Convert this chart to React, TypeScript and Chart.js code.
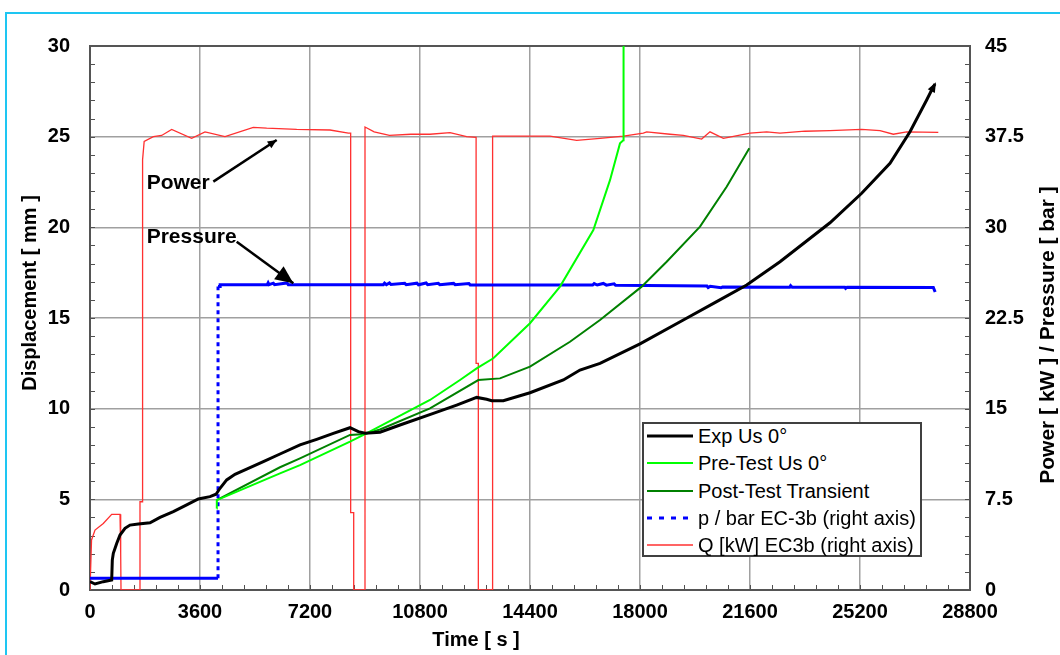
import React, { useEffect, useRef } from "react";
import { Chart, registerables } from "chart.js";

Chart.register(...registerables);

// ---------------- data ----------------
const X_MIN = 0;
const X_MAX = 28800;
const X_STEP = 3600;
const X_MINOR = 720;
const Y_MAX = 30;
const Y_STEP = 5;
const Y_MINOR = 1;
const Y2_MAX = 45;
const Y2_STEP = 7.5;
const Y2_MINOR = 1.5;

const seriesLabels = [
  "Exp Us 0°",
  "Pre-Test Us 0°",
  "Post-Test Transient",
  "p / bar EC-3b (right axis)",
  "Q [kW] EC3b (right axis)",
];

// Exp Us 0° (time s, displacement mm)
const expT = [0, 164, 435, 710, 730, 763, 873, 982, 1145, 1309, 1581, 1964, 2291, 2727, 3164, 3545, 3927, 4124, 4255, 4473, 4745, 5127, 5673, 6218, 6873, 7418, 7964, 8509, 8782, 9000, 9491, 10145, 11236, 12000, 12655, 12982, 13145, 13527, 14400, 15491, 16036, 16691, 18000, 19418, 20509, 21491, 22582, 24218, 25255, 26182, 26836, 27382, 27600, 27655];
const expD = [0.46, 0.33, 0.46, 0.55, 1.65, 2.02, 2.57, 3.03, 3.4, 3.58, 3.64, 3.71, 4.0, 4.32, 4.69, 5.02, 5.15, 5.28, 5.61, 6.07, 6.38, 6.66, 7.08, 7.5, 8.0, 8.31, 8.64, 8.95, 8.73, 8.64, 8.7, 9.1, 9.74, 10.2, 10.62, 10.52, 10.44, 10.44, 10.88, 11.58, 12.13, 12.5, 13.57, 14.89, 15.9, 16.82, 18.1, 20.25, 21.88, 23.53, 25.27, 27.02, 27.75, 27.9];

// Pre-Test Us 0°
const preT = [4145, 4150, 6218, 6873, 8509, 9000, 11127, 12109, 12655, 13200, 14400, 15382, 16473, 17018, 17345, 17454, 17462];
const preD = [4.5, 4.96, 6.43, 6.89, 8.18, 8.6, 10.48, 11.58, 12.22, 12.78, 14.71, 16.73, 19.85, 22.6, 24.63, 24.8, 31];

// Post-Test Transient
const postT = [4145, 6218, 6873, 8509, 9000, 9491, 11127, 12709, 13418, 14400, 15709, 16691, 18054, 18873, 19964, 20836, 21578];
const postD = [4.96, 6.77, 7.26, 8.55, 8.6, 8.85, 10.02, 11.58, 11.67, 12.32, 13.69, 14.89, 16.73, 18.1, 20.04, 22.24, 24.36];

// p / bar EC-3b (right axis)
const pT = [0, 4190, 4190, 4260, 4260, 5800, 5830, 5860, 6000, 6040, 6450, 6490, 9600, 9640, 9700, 9800, 9850, 10300, 10350, 10700, 10750, 11000, 11050, 11400, 11450, 11900, 11950, 12400, 12440, 16450, 16500, 16600, 16800, 16900, 17150, 17200, 20190, 20230, 20300, 20650, 20700, 22900, 22930, 22980, 24700, 24730, 24780, 27600, 27660];
const pV = [0.97, 0.97, 25.1, 25.1, 25.25, 25.25, 25.4, 25.25, 25.38, 25.25, 25.4, 25.25, 25.25, 25.38, 25.25, 25.4, 25.27, 25.37, 25.25, 25.38, 25.25, 25.4, 25.25, 25.37, 25.25, 25.36, 25.25, 25.35, 25.24, 25.23, 25.35, 25.23, 25.36, 25.22, 25.33, 25.2, 25.14, 25.02, 25.13, 25.0, 25.06, 25.05, 25.18, 25.05, 25.05, 24.95, 25.05, 25.03, 24.65];

// Q [kW] EC3b (right axis)
const qT = [0, 50, 164, 435, 710, 982, 1004, 1015, 1636, 1636, 1721, 1721, 1773, 2073, 2345, 2673, 3327, 3764, 4418, 5345, 5782, 6764, 7855, 8455, 8531, 8531, 8630, 8630, 9000, 9000, 9300, 9800, 10500, 11127, 11782, 12327, 12636, 12636, 12709, 12709, 13176, 13176, 15055, 15927, 16691, 17455, 18109, 18218, 18982, 19418, 20018, 20291, 20727, 21600, 22145, 22582, 23400, 24218, 25255, 25855, 26291, 26727, 27763];
const qV = [0, 4.14, 4.96, 5.5, 6.26, 6.26, 3.06, 0, 0, 7.3, 7.3, 35.6, 37.1, 37.5, 37.6, 38.1, 37.36, 37.9, 37.5, 38.27, 38.2, 38.1, 38.05, 37.8, 37.8, 6.4, 6.4, 0, 0, 38.3, 37.9, 37.6, 37.7, 37.7, 37.83, 37.5, 37.44, 18.75, 18.75, 0, 0, 37.55, 37.55, 37.2, 37.36, 37.55, 37.8, 37.9, 37.7, 37.6, 37.3, 37.9, 37.36, 37.8, 37.9, 37.8, 37.95, 38.0, 38.1, 38.0, 37.7, 37.9, 37.86];

// annotation anchors (data units: time s, displacement mm)
const powerLabel = { text: "Power", t: 1855, d: 22.45, from: [4036, 22.52], to: [6110, 24.82] };
const pressureLabel = { text: "Pressure", t: 1855, d: 19.48, from: [4800, 19.21], to: [6655, 16.91] };

// ---------------- styles ----------------
const COLORS = ["#000000", "#00ff00", "#008000", "#0000ff", "#ff3030"];
const WIDTHS = [3, 2, 2, 3, 1.3];
const FONT = '"Liberation Sans", Arial, sans-serif';

const zip = (t: number[], v: number[]) => t.map((x, i) => ({ x, y: v[i] }));

function arrow(ctx: CanvasRenderingContext2D, x1: number, y1: number, x2: number, y2: number, len: number, half: number) {
  ctx.beginPath();
  ctx.moveTo(x1, y1);
  ctx.lineTo(x2, y2);
  ctx.stroke();
  const a = Math.atan2(y2 - y1, x2 - x1);
  const bx = x2 - len * Math.cos(a);
  const by = y2 - len * Math.sin(a);
  ctx.beginPath();
  ctx.moveTo(x2, y2);
  ctx.lineTo(bx + half * Math.sin(a), by - half * Math.cos(a));
  ctx.lineTo(bx - half * Math.sin(a), by + half * Math.cos(a));
  ctx.closePath();
  ctx.fill();
}

const decorPlugin = {
  id: "decor",
  beforeDatasetsDraw(chart: any) {
    const { ctx, chartArea: a } = chart;
    const xs = chart.scales.x, ys = chart.scales.y, y2s = chart.scales.y2;
    ctx.save();
    ctx.strokeStyle = "#505050";
    ctx.lineWidth = 1;
    ctx.beginPath();
    for (let v = X_MIN; v <= X_MAX; v += X_MINOR) {
      const px = Math.round(xs.getPixelForValue(v)) + 0.5;
      ctx.moveTo(px, a.bottom);
      ctx.lineTo(px, a.bottom - 5);
    }
    for (let v = 0; v <= Y_MAX; v += Y_MINOR) {
      const py = Math.round(ys.getPixelForValue(v)) + 0.5;
      ctx.moveTo(a.left, py);
      ctx.lineTo(a.left + 5, py);
    }
    for (let v = 0; v <= Y2_MAX + 1e-6; v += Y2_MINOR) {
      const py = Math.round(y2s.getPixelForValue(v)) + 0.5;
      ctx.moveTo(a.right, py);
      ctx.lineTo(a.right - 5, py);
    }
    ctx.stroke();
    ctx.strokeStyle = "#555555";
    ctx.lineWidth = 2;
    ctx.strokeRect(a.left, a.top, a.right - a.left, a.bottom - a.top);
    ctx.restore();
  },
  afterDraw(chart: any) {
    const { ctx } = chart;
    const xs = chart.scales.x, ys = chart.scales.y;
    ctx.save();
    ctx.fillStyle = "#000";
    // axis titles
    ctx.font = `bold 20px ${FONT}`;
    ctx.textAlign = "center";
    ctx.textBaseline = "middle";
    ctx.fillText("Time [ s ]", 476, 640);
    ctx.save();
    ctx.translate(30, 293);
    ctx.rotate(-Math.PI / 2);
    ctx.fillText("Displacement [ mm ]", 0, 0);
    ctx.restore();
    ctx.save();
    ctx.translate(1048, 335);
    ctx.rotate(-Math.PI / 2);
    ctx.font = `bold 21px ${FONT}`;
    ctx.fillText("Power [ kW ] / Pressure [ bar ]", 0, 0);
    ctx.restore();

    // annotations
    ctx.font = `bold 21px ${FONT}`;
    ctx.textAlign = "left";
    ctx.strokeStyle = "#000";
    ctx.lineWidth = 2.5;
    for (const [lab, len, half] of [[powerLabel, 9, 4], [pressureLabel, 18, 8]] as any) {
      ctx.fillText(lab.text, xs.getPixelForValue(lab.t), ys.getPixelForValue(lab.d));
      arrow(
        ctx,
        xs.getPixelForValue(lab.from[0]), ys.getPixelForValue(lab.from[1]),
        xs.getPixelForValue(lab.to[0]), ys.getPixelForValue(lab.to[1]),
        len, half
      );
    }
    // arrowhead at end of the experimental curve
    const n = expT.length;
    const x1 = xs.getPixelForValue(expT[n - 3]), y1 = ys.getPixelForValue(expD[n - 3]);
    const x2 = xs.getPixelForValue(expT[n - 1]), y2 = ys.getPixelForValue(expD[n - 1]);
    const ang = Math.atan2(y2 - y1, x2 - x1);
    ctx.beginPath();
    ctx.moveTo(x2 + 2 * Math.cos(ang), y2 + 2 * Math.sin(ang));
    ctx.lineTo(x2 - 8 * Math.cos(ang) + 4 * Math.sin(ang), y2 - 8 * Math.sin(ang) - 4 * Math.cos(ang));
    ctx.lineTo(x2 - 8 * Math.cos(ang) - 4 * Math.sin(ang), y2 - 8 * Math.sin(ang) + 4 * Math.cos(ang));
    ctx.closePath();
    ctx.fill();
    ctx.restore();
  },
};

export default function App() {
  const ref = useRef<HTMLCanvasElement | null>(null);

  useEffect(() => {
    if (!ref.current) return;
    const tickFont = { family: FONT, size: 20, weight: "bold" as const };
    const chart = new Chart(ref.current, {
      type: "line",
      data: {
        datasets: [
          { label: seriesLabels[0], data: zip(expT, expD), yAxisID: "y" },
          { label: seriesLabels[1], data: zip(preT, preD), yAxisID: "y" },
          { label: seriesLabels[2], data: zip(postT, postD), yAxisID: "y" },
          {
            label: seriesLabels[3],
            data: zip(pT, pV),
            yAxisID: "y2",
            segment: {
              borderDash: (c: any) =>
                c.p0.parsed.x === c.p1.parsed.x && Math.abs(c.p0.parsed.y - c.p1.parsed.y) > 5 ? [4, 4] : undefined,
            },
          },
          { label: seriesLabels[4], data: zip(qT, qV), yAxisID: "y2" },
        ].map((d: any, i) => ({
          ...d,
          borderColor: COLORS[i],
          backgroundColor: COLORS[i],
          borderWidth: WIDTHS[i],
          pointRadius: 0,
          tension: 0,
          fill: false,
        })),
      },
      options: {
        animation: false,
        responsive: false,
        devicePixelRatio: 1,
        layout: { padding: { top: 46, left: 0, right: 0, bottom: 0 } },
        plugins: { legend: { display: false }, tooltip: { enabled: false } },
        scales: {
          x: {
            type: "linear",
            min: X_MIN,
            max: X_MAX,
            ticks: { stepSize: X_STEP, font: tickFont, color: "#000", padding: 10, maxRotation: 0, autoSkip: false, callback: (v: any) => String(v) },
            grid: { color: "#a0a0a0", lineWidth: 1.5, drawTicks: false },
            border: { display: false },
            afterFit: (s: any) => { s.height = 65; },
          },
          y: {
            type: "linear",
            position: "left",
            min: 0,
            max: Y_MAX,
            ticks: { stepSize: Y_STEP, font: tickFont, color: "#000", padding: 20, callback: (v: any) => String(v) },
            grid: { color: "#a0a0a0", lineWidth: 1.5, drawTicks: false },
            border: { display: false },
            afterFit: (s: any) => { s.width = 90; },
          },
          y2: {
            type: "linear",
            position: "right",
            min: 0,
            max: Y2_MAX,
            ticks: { stepSize: Y2_STEP, font: tickFont, color: "#000", padding: 15, callback: (v: any) => String(v) },
            grid: { display: false, drawTicks: false },
            border: { display: false },
            afterFit: (s: any) => { s.width = 90; },
          },
        },
      },
      plugins: [decorPlugin],
    } as any);
    return () => chart.destroy();
  }, []);

  const rowCenters = [12, 39.3, 66.6, 93.9, 121.2];

  return (
    <div style={{ position: "fixed", left: 0, top: 0, width: 1060, height: 655, background: "#fff", overflow: "hidden" }}>
      <canvas ref={ref} width={1060} height={655} style={{ display: "block", width: 1060, height: 655 }} />
      <div style={{ position: "absolute", left: 5, top: 12, width: 1200, height: 800, borderTop: "2px solid #1ec6f2", borderLeft: "2px solid #1ec6f2", pointerEvents: "none" }} />
      <div
        style={{
          position: "absolute",
          left: 642,
          top: 422,
          width: 280,
          height: 135,
          boxSizing: "border-box",
          border: "2px solid #404040",
          background: "#fff",
          fontFamily: FONT,
          fontSize: 20,
          color: "#000",
        }}
      >
        {seriesLabels.map((lab, i) => (
          <div key={lab} style={{ position: "absolute", left: 0, top: rowCenters[i] - 13, height: 26, display: "flex", alignItems: "center", whiteSpace: "nowrap" }}>
            <svg width={52} height={26} style={{ display: "block", flex: "none" }}>
              <line
                x1={3}
                y1={13}
                x2={49}
                y2={13}
                stroke={COLORS[i]}
                strokeWidth={i === 4 ? 1.5 : WIDTHS[i]}
                strokeDasharray={i === 3 ? "5,7" : undefined}
              />
            </svg>
            <span style={{ lineHeight: "26px", marginLeft: 2 }}>{lab}</span>
          </div>
        ))}
      </div>
    </div>
  );
}
